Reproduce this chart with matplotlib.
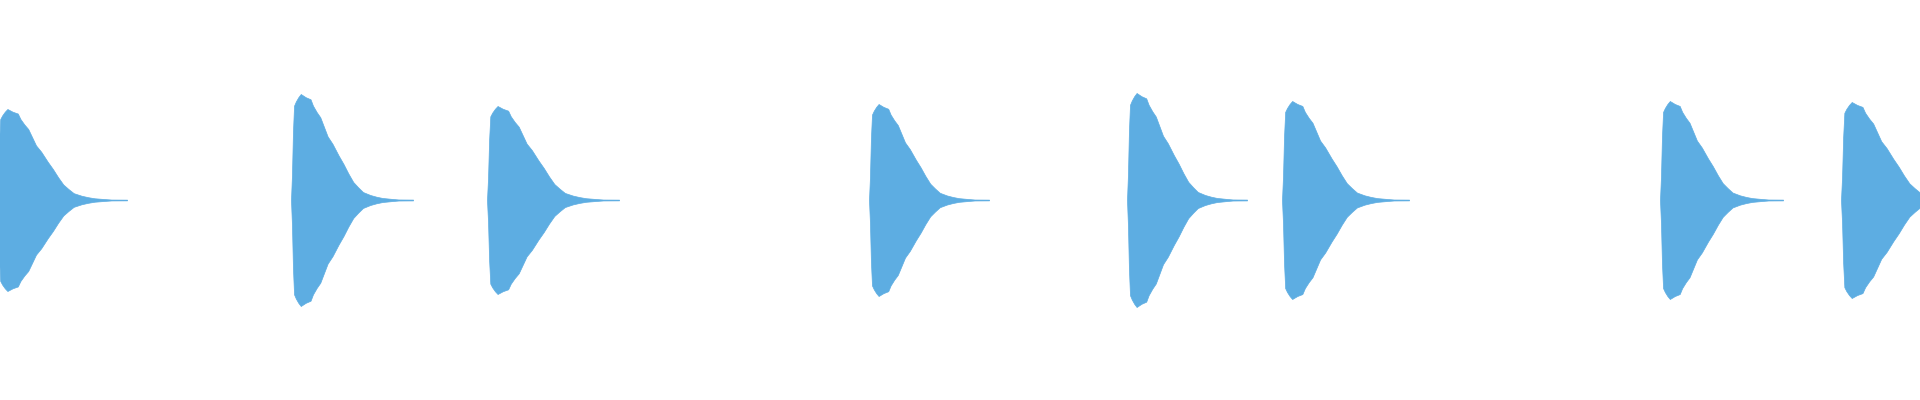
import numpy as np
import matplotlib
matplotlib.use("Agg")
import matplotlib.pyplot as plt

# pulse onsets, durations (s) and peak amplitudes
onsets = [-0.03, 2.91, 4.87, 8.69, 11.27, 12.82, 16.60, 18.41]
durations = [1.30, 1.22, 1.32, 1.20, 1.20, 1.27, 1.23, 1.34]
peaks = [0.455, 0.53, 0.47, 0.48, 0.535, 0.495, 0.495, 0.49]

# shared decay envelope: fraction of pulse duration -> fraction of peak
env_pos = [0.0, 0.008, 0.016, 0.025, 0.04, 0.06, 0.08, 0.12, 0.16, 0.18,
           0.21, 0.24, 0.26, 0.30, 0.34, 0.39, 0.43, 0.47, 0.51, 0.55,
           0.59, 0.65, 0.70, 0.75, 0.84, 0.88, 1.0]
env_amp = [0.0, 0.24, 0.64, 0.89, 0.93, 0.97, 1.0, 0.97, 0.95, 0.89,
           0.83, 0.78, 0.72, 0.60, 0.53, 0.42, 0.34, 0.25, 0.17, 0.12,
           0.075, 0.047, 0.031, 0.019, 0.009, 0.005, 0.004]

color = "#5DADE2"

fig = plt.figure(figsize=(19.2, 4), dpi=100)
ax = fig.add_axes([0, 0, 1, 1])

for t0, dur, pk in zip(onsets, durations, peaks):
    t = t0 + np.array(env_pos) * dur
    a = np.array(env_amp) * pk
    ax.fill_between(t, -a, a, color=color, linewidth=0.5, edgecolor=color)

ax.set_xlim(0, 19.2)
ax.set_ylim(-1, 1)
ax.axis("off")

fig.savefig("out.png", dpi=100, facecolor="white")
plt.close(fig)
